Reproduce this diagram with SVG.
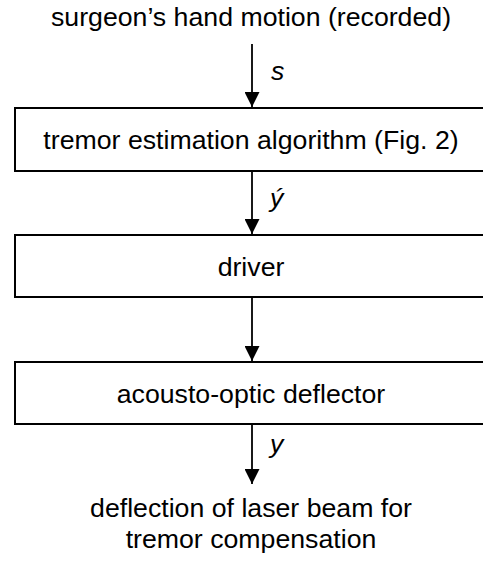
<svg xmlns="http://www.w3.org/2000/svg" width="483" height="565" viewBox="0 0 483 565">
  <style>
    text { font-family: "Liberation Sans", Arial, sans-serif; font-size: 26.7px; fill: #000; text-anchor: middle; }
    .sig { font-style: italic; text-anchor: start; }
    .box { fill: #fff; stroke: #000; stroke-width: 2; }
    .wire { stroke: #000; stroke-width: 1.8; fill: none; marker-end: url(#head); }
  </style>
  <defs>
    <marker id="head" markerUnits="userSpaceOnUse" markerWidth="16" markerHeight="15" refX="15" refY="7.5" orient="auto">
      <path d="M0,0 L15,7.5 L0,15 Z" fill="#000"/>
    </marker>
  </defs>
  <rect width="483" height="565" fill="#fff"/>

  <g id="connectors">
    <line class="wire" x1="252" y1="44" x2="252" y2="107"/>
    <line class="wire" x1="252" y1="171" x2="252" y2="234"/>
    <line class="wire" x1="252" y1="297" x2="252" y2="361"/>
    <line class="wire" x1="252" y1="424" x2="252" y2="484"/>
    <text class="sig" x="271" y="80">s</text>
    <text class="sig" x="270" y="207">ý</text>
    <text class="sig" x="270" y="453">y</text>
  </g>

  <g id="input">
    <text x="251" y="26">surgeon’s hand motion (recorded)</text>
  </g>

  <g id="estimator">
    <rect class="box" x="15" y="108" width="474" height="63"/>
    <text x="251" y="149">tremor estimation algorithm (Fig. 2)</text>
  </g>

  <g id="driver">
    <rect class="box" x="15" y="235" width="474" height="62"/>
    <text x="251" y="276">driver</text>
  </g>

  <g id="deflector">
    <rect class="box" x="15" y="362" width="474" height="62"/>
    <text x="251" y="403">acousto-optic deflector</text>
  </g>

  <g id="output">
    <text x="251" y="517">deflection of laser beam for</text>
    <text x="251" y="548">tremor compensation</text>
  </g>
</svg>
